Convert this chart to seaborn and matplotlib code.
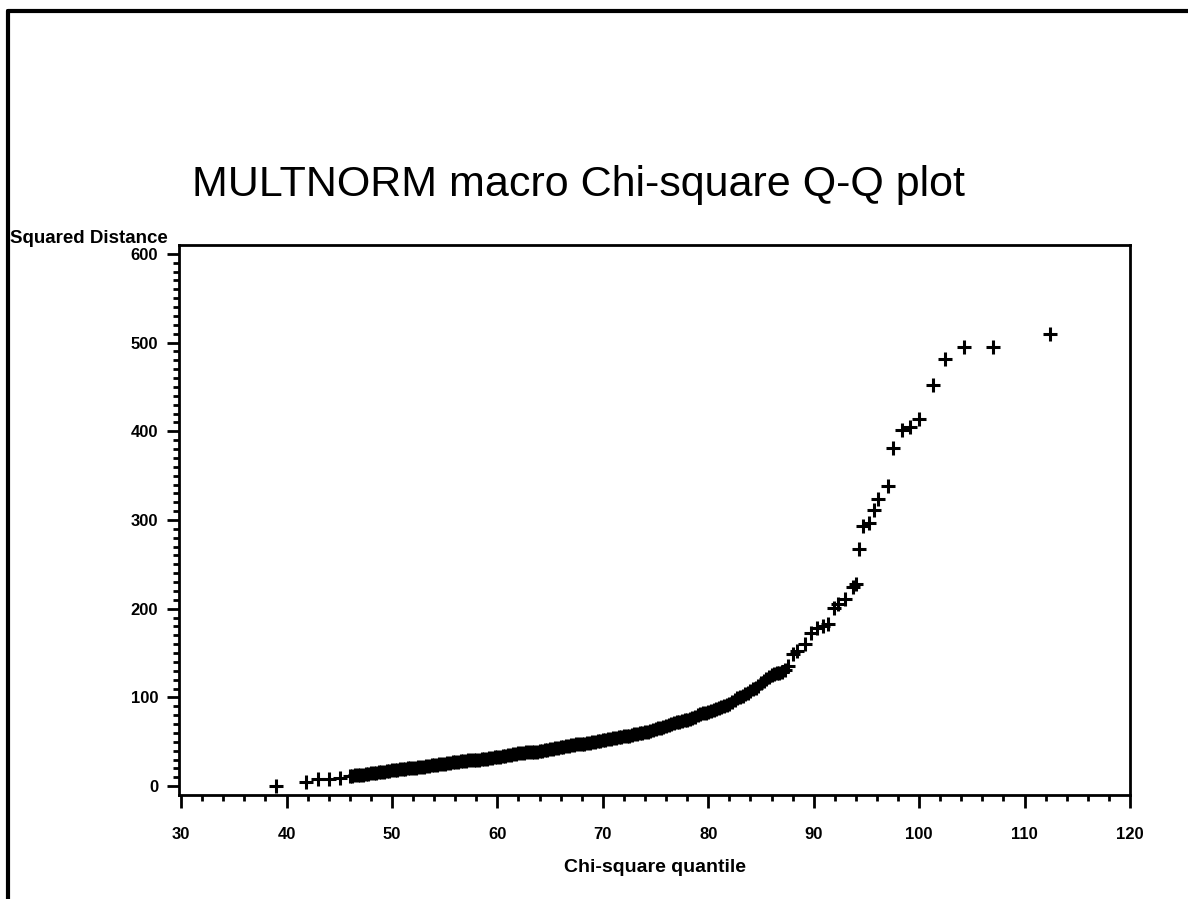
import numpy as np
import pandas as pd
import matplotlib
matplotlib.use("Agg")
import matplotlib.pyplot as plt
from matplotlib.lines import Line2D
import seaborn as sns

# chi-square quantiles vs squared Mahalanobis distances
chi_quantile = [39.0, 41.8, 43.0, 44.0, 45.1,
                46.0, 46.25, 46.5, 46.75, 47.0, 47.25, 47.5, 47.75, 48.0, 48.25,
                48.5, 48.75, 49.0, 49.25, 49.5, 49.75, 50.0, 50.25, 50.5, 50.75,
                51.0, 51.25, 51.5, 51.75, 52.0, 52.25, 52.5, 52.75, 53.0, 53.25,
                53.5, 53.75, 54.0, 54.25, 54.5, 54.75, 55.0, 55.25, 55.5, 55.75,
                56.0, 56.25, 56.5, 56.75, 57.0, 57.25, 57.5, 57.75, 58.0, 58.25,
                58.5, 58.75, 59.0, 59.25, 59.5, 59.75, 60.0, 60.25, 60.5, 60.75,
                61.0, 61.25, 61.5, 61.75, 62.0, 62.25, 62.5, 62.75, 63.0, 63.25,
                63.5, 63.75, 64.0, 64.25, 64.5, 64.75, 65.0, 65.25, 65.5, 65.75,
                66.0, 66.25, 66.5, 66.75, 67.0, 67.25, 67.5, 67.75, 68.0, 68.25,
                68.5, 68.75, 69.0, 69.25, 69.5, 69.75, 70.0, 70.25, 70.5, 70.75,
                71.0, 71.25, 71.5, 71.75, 72.0, 72.25, 72.5, 72.75, 73.0, 73.25,
                73.5, 73.75, 74.0, 74.25, 74.5, 74.75, 75.0, 75.25, 75.5, 75.75,
                76.0, 76.25, 76.5, 76.75, 77.0, 77.25, 77.5, 77.75, 78.0, 78.25,
                78.5, 78.75, 79.0, 79.25, 79.5, 79.75, 80.0, 80.25, 80.5, 80.75,
                81.0, 81.25, 81.5, 81.75, 82.0, 82.25, 82.5, 82.75, 83.0, 83.25,
                83.5, 83.75, 84.0, 84.25, 84.5, 84.75, 85.0, 85.25, 85.5, 85.75,
                86.0, 86.25, 86.5, 86.75, 87.0, 87.25,
                87.6, 88.0, 88.4, 89.2, 89.7, 90.3, 90.9, 91.4, 91.9, 92.3,
                93.0, 93.7, 94.0, 94.3, 94.7, 95.2, 95.7, 96.1, 97.0, 97.5,
                98.4, 99.1, 100.0, 101.3, 102.5, 104.3, 107.0, 112.4]
sq_distance = [0, 4.5, 8, 8, 9,
               11, 11, 12, 12, 13, 13, 14, 14, 15, 15,
               15, 16, 16, 16, 17, 17, 18, 18, 18, 19,
               19, 19, 20, 20, 21, 21, 22, 22, 22, 23,
               23, 24, 24, 24, 25, 25, 25, 26, 26, 27,
               27, 27, 28, 28, 28, 29, 29, 30, 30, 30,
               31, 31, 31, 32, 32, 33, 33, 33, 34, 34,
               35, 35, 36, 36, 37, 37, 37, 38, 38, 38,
               39, 39, 40, 40, 41, 41, 42, 42, 43, 43,
               44, 44, 45, 45, 46, 46, 47, 47, 48, 48,
               49, 49, 50, 50, 51, 51, 52, 52, 53, 53,
               54, 54, 55, 55, 56, 56, 57, 58, 59, 59,
               60, 60, 61, 61, 62, 63, 64, 65, 66, 67,
               68, 69, 70, 71, 72, 72, 73, 74, 75, 76,
               77, 78, 80, 81, 82, 83, 84, 85, 86, 87,
               88, 89, 90, 91, 93, 95, 97, 99, 101, 102,
               104, 105, 107, 109, 111, 113, 116, 118, 121, 123,
               125, 126, 127, 128, 129, 131,
               135, 149, 152, 160, 173, 178, 180, 183, 201, 205,
               211, 225, 228, 267, 293, 297, 311, 324, 338, 381,
               401, 405, 414, 452, 482, 495, 495, 510]

x_ticks = [30, 40, 50, 60, 70, 80, 90, 100, 110, 120]
y_ticks = [0, 100, 200, 300, 400, 500, 600]

df = pd.DataFrame({"quantile": chi_quantile, "dist": sq_distance})

sns.set_style("white")
plt.rcParams["font.family"] = ["Liberation Sans", "DejaVu Sans"]
for k in ["text.color", "axes.labelcolor", "xtick.color", "ytick.color"]:
    plt.rcParams[k] = "black"

fig = plt.figure(figsize=(11.88, 8.99), dpi=100)
ax = fig.add_axes([179/1188, 1-795/899, (1130-179)/1188, (795-245)/899])

sns.scatterplot(data=df, x="quantile", y="dist", marker="+", s=95,
                linewidth=2.2, color="black", ax=ax, legend=False)

ax.set_xlim(29.8, 120)
ax.set_ylim(-10, 610)
ax.set_xticks(x_ticks)
ax.set_yticks(y_ticks)
ax.set_xticks(np.arange(30, 121, 2), minor=True)
ax.set_yticks(np.arange(0, 601, 10), minor=True)
ax.set_xticklabels([str(t) for t in x_ticks], fontsize=12, fontweight="bold")
ax.set_yticklabels([str(t) for t in y_ticks], fontsize=12, fontweight="bold")
ax.tick_params(axis="both", which="major", direction="out", length=9, width=2,
               color="black", bottom=True, left=True)
ax.tick_params(axis="both", which="minor", direction="out", length=4, width=2,
               color="black", bottom=True, left=True)
ax.tick_params(axis="x", pad=14)
ax.tick_params(axis="y", pad=6)
for sp in ax.spines.values():
    sp.set_linewidth(2)
    sp.set_color("black")
ax.set_xlabel("")
ax.set_ylabel("")

fig.text(655/1188, 1-868/899, "Chi-square quantile", ha="center", va="center",
         fontsize=14, fontweight="bold")
fig.text(10/1188, 1-238/899, "Squared Distance", ha="left", va="center",
         fontsize=13.5, fontweight="bold")
fig.text(578/1188, 1-185/899, "MULTNORM macro Chi-square Q-Q plot",
         ha="center", va="center", fontsize=31)

# outer page frame (top and left edges)
fig.add_artist(Line2D([8/1188, 8/1188], [0, 1-11/899], color="black", lw=3,
                      transform=fig.transFigure))
fig.add_artist(Line2D([8/1188, 1], [1-11/899, 1-11/899], color="black", lw=3,
                      transform=fig.transFigure))

fig.savefig("out.png", dpi=100, facecolor="white")
